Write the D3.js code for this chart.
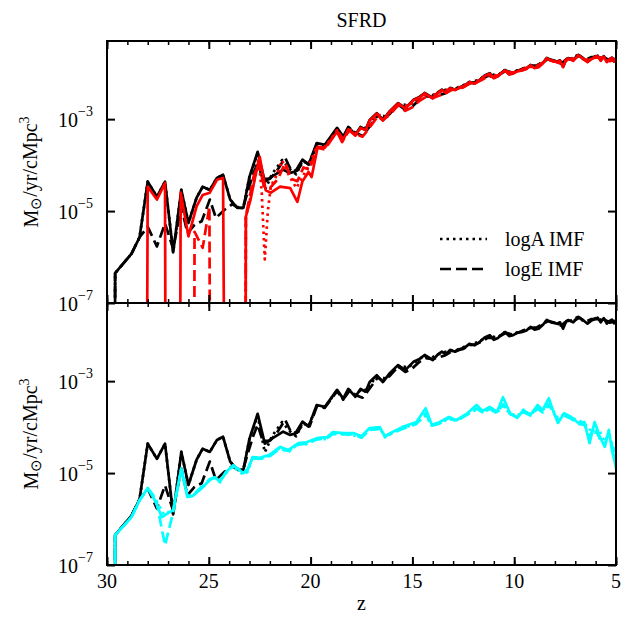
<!DOCTYPE html>
<html>
<head>
<meta charset="utf-8">
<script src="https://cdn.jsdelivr.net/npm/d3@7"></script>
<style>
  body { margin: 0; background: #fff; }
  svg text { font-family: "Liberation Serif", "Times New Roman", serif; fill: #000; }
</style>
</head>
<body>
<div id="chart"></div>
<script>
// values are [z, log10(SFRD)]; -10 means zero (drops below the axis)
var totFid = [[29.62,-10],[29.6,-6.35],[28.8,-5.93],[28.4,-5.57],[28.0,-4.36],[27.55,-4.69],[27.15,-4.36],[26.75,-5.9],[26.35,-4.54],[26.0,-5.26],[25.6,-4.71],[25.3,-4.47],[24.95,-4.54],[24.6,-4.28],[24.3,-4.21],[23.95,-4.75],[23.6,-4.93],[23.3,-4.93],[23.0,-4.25],[22.6,-3.71],[22.25,-4.36],[21.9,-4.25],[21.35,-4.1],[21.0,-4.17],[20.75,-4.14],[20.4,-3.88],[20.1,-3.99],[19.7,-3.52],[19.3,-3.56],[18.7,-3.19],[18.4,-3.38],[18.15,-3.17],[17.8,-3.34],[17.55,-3.17],[17.3,-3.23],[17.1,-3.02],[16.75,-2.87],[16.45,-3.02],[16.1,-2.82],[15.7,-2.65],[15.35,-2.76],[14.95,-2.58],[14.65,-2.52],[14.4,-2.43],[14.0,-2.54],[13.75,-2.42],[13.55,-2.36],[13.35,-2.42],[13.15,-2.32],[12.9,-2.36],[12.65,-2.3],[12.4,-2.26],[12.2,-2.19],[11.95,-2.22],[11.7,-2.15],[11.45,-2.05],[11.2,-2.0],[11.0,-2.1],[10.8,-2.06],[10.6,-1.98],[10.45,-1.93],[10.25,-2.02],[10.05,-2.0],[9.85,-1.95],[9.6,-1.93],[9.4,-1.9],[9.2,-1.82],[9.0,-1.88],[8.8,-1.86],[8.6,-1.78],[8.4,-1.67],[8.2,-1.72],[7.9,-1.75],[7.75,-1.72],[7.6,-1.86],[7.45,-1.7],[7.35,-1.67],[7.1,-1.72],[6.85,-1.6],[6.65,-1.66],[6.4,-1.75],[6.2,-1.68],[5.9,-1.62],[5.75,-1.72],[5.6,-1.63],[5.45,-1.75],[5.35,-1.7],[5.2,-1.66],[5.1,-1.74],[5.0,-1.68]];

var totLogA = [[29.62,-10],[29.6,-6.35],[28.8,-5.93],[28.4,-5.57],[28.0,-4.36],[27.55,-4.69],[27.15,-4.36],[26.75,-5.9],[26.35,-4.54],[26.0,-5.26],[25.6,-4.71],[25.3,-4.47],[24.95,-4.54],[24.6,-4.28],[24.3,-4.21],[23.95,-4.75],[23.6,-4.93],[23.3,-4.93],[23.0,-4.25],[22.6,-3.75],[22.25,-4.55],[21.9,-4.2],[21.4,-3.89],[21.0,-4.1],[20.7,-4.2],[20.4,-3.9],[20.1,-3.98],[19.7,-3.54],[19.3,-3.57],[18.7,-3.2],[18.4,-3.4],[18.1,-3.19],[17.8,-3.3],[17.5,-3.18],[17.2,-3.2],[16.9,-2.97],[16.6,-2.9],[16.3,-2.95],[15.9,-2.75],[15.6,-2.67],[15.2,-2.7],[14.9,-2.6],[14.5,-2.47],[14.1,-2.5],[13.8,-2.43],[13.5,-2.38],[13.2,-2.34],[12.9,-2.34],[12.6,-2.28],[12.3,-2.22],[12.0,-2.18],[11.7,-2.14],[11.4,-2.04],[11.1,-2.03],[10.8,-2.05],[10.5,-1.94],[10.2,-1.99],[9.9,-1.95],[9.6,-1.91],[9.3,-1.85],[9.0,-1.86],[8.7,-1.81],[8.4,-1.68],[8.1,-1.73],[7.8,-1.76],[7.5,-1.73],[7.2,-1.68],[6.9,-1.61],[6.6,-1.69],[6.3,-1.69],[6.0,-1.63],[5.7,-1.67],[5.4,-1.71],[5.1,-1.69],[5.0,-1.71]];

var totLogE = [[29.62,-10],[29.6,-6.35],[28.8,-5.93],[28.4,-5.57],[28.0,-5.34],[27.55,-5.77],[27.15,-5.27],[26.75,-5.82],[26.35,-4.9],[26.05,-5.48],[25.7,-5.3],[25.35,-5.22],[24.95,-4.75],[24.65,-5.15],[24.25,-4.98],[23.85,-4.85],[23.6,-4.92],[23.3,-4.9],[23.0,-4.45],[22.8,-4.17],[22.6,-3.95],[22.35,-4.3],[22.0,-4.3],[21.65,-4.12],[21.25,-3.84],[20.95,-4.12],[20.65,-4.12],[20.35,-3.92],[20.05,-3.98],[19.7,-3.56],[19.3,-3.58],[18.7,-3.22],[18.4,-3.4],[18.1,-3.22],[17.8,-3.3],[17.45,-3.36],[17.3,-3.28],[17.0,-3.1],[16.7,-2.92],[16.45,-3.0],[16.1,-2.88],[15.7,-2.68],[15.35,-2.8],[15.0,-2.72],[14.65,-2.58],[14.35,-2.5],[14.0,-2.52],[13.7,-2.48],[13.4,-2.44],[13.1,-2.36],[12.8,-2.33],[12.5,-2.3],[12.2,-2.22],[11.9,-2.2],[11.6,-2.14],[11.3,-2.06],[11.0,-2.06],[10.7,-2.02],[10.4,-1.95],[10.1,-1.98],[9.8,-1.94],[9.5,-1.89],[9.2,-1.84],[8.9,-1.83],[8.6,-1.76],[8.3,-1.69],[8.0,-1.73],[7.7,-1.79],[7.4,-1.69],[7.1,-1.69],[6.8,-1.62],[6.5,-1.71],[6.2,-1.65],[5.9,-1.65],[5.6,-1.65],[5.3,-1.73],[5.0,-1.69]];

var p2Fid = [[28.05,-10],[28.0,-4.47],[27.55,-4.75],[27.15,-4.39],[27.12,-10],[26.42,-10],[26.38,-4.6],[26.0,-5.55],[25.6,-4.9],[25.3,-4.65],[24.95,-4.6],[24.6,-4.32],[24.3,-4.28],[24.22,-10],[23.2,-10],[23.18,-5.12],[22.95,-4.75],[22.75,-4.32],[22.5,-3.82],[22.2,-4.55],[21.95,-4.6],[21.5,-4.47],[21.0,-4.5],[20.65,-4.8],[20.4,-4.35],[20.1,-4.15],[19.95,-4.26],[19.65,-3.6],[19.3,-3.62],[18.7,-3.28],[18.45,-3.5],[18.15,-3.22],[17.8,-3.36],[17.55,-3.19],[17.3,-3.24],[17.1,-3.03],[16.75,-2.88],[16.45,-3.03],[16.1,-2.83],[15.7,-2.66],[15.35,-2.77],[14.95,-2.59],[14.65,-2.53],[14.4,-2.44],[14.0,-2.55],[13.75,-2.43],[13.55,-2.37],[13.35,-2.43],[13.15,-2.33],[12.9,-2.37],[12.65,-2.31],[12.4,-2.27],[12.2,-2.2],[11.95,-2.23],[11.7,-2.16],[11.45,-2.06],[11.2,-2.01],[11.0,-2.11],[10.8,-2.07],[10.6,-1.99],[10.45,-1.94],[10.25,-2.03],[10.05,-2.01],[9.85,-1.96],[9.6,-1.94],[9.4,-1.91],[9.2,-1.83],[9.0,-1.89],[8.8,-1.87],[8.6,-1.79],[8.4,-1.68],[8.2,-1.73],[7.9,-1.76],[7.75,-1.73],[7.6,-1.87],[7.45,-1.71],[7.35,-1.68],[7.1,-1.73],[6.85,-1.61],[6.65,-1.67],[6.4,-1.76],[6.2,-1.69],[5.9,-1.63],[5.75,-1.73],[5.6,-1.64],[5.45,-1.76],[5.35,-1.71],[5.2,-1.67],[5.1,-1.75],[5.0,-1.69]];

var p2LogA = [[23.2,-10],[23.18,-5.12],[22.95,-4.7],[22.75,-4.3],[22.55,-3.85],[22.4,-4.6],[22.25,-6.05],[22.1,-5.0],[21.95,-4.45],[21.7,-4.25],[21.4,-3.9],[21.15,-4.15],[20.9,-4.35],[20.7,-4.5],[20.45,-4.3],[20.1,-4.02],[19.7,-3.6],[19.35,-3.63],[18.7,-3.24],[18.4,-3.45],[18.1,-3.22],[17.8,-3.31],[17.5,-3.19],[17.2,-3.21],[16.9,-2.98],[16.6,-2.91],[16.3,-2.96],[15.9,-2.76],[15.6,-2.68],[15.2,-2.71],[14.9,-2.61],[14.5,-2.48],[14.1,-2.51],[13.8,-2.44],[13.5,-2.39],[13.2,-2.35],[12.9,-2.35],[12.6,-2.29],[12.3,-2.23],[12.0,-2.19],[11.7,-2.15],[11.4,-2.05],[11.1,-2.04],[10.8,-2.06],[10.5,-1.95],[10.2,-2.0],[9.9,-1.96],[9.6,-1.92],[9.3,-1.86],[9.0,-1.87],[8.7,-1.82],[8.4,-1.69],[8.1,-1.74],[7.8,-1.77],[7.5,-1.74],[7.2,-1.69],[6.9,-1.62],[6.6,-1.7],[6.3,-1.7],[6.0,-1.64],[5.7,-1.68],[5.4,-1.72],[5.1,-1.7],[5.0,-1.72]];

var p2LogE = [[25.72,-10],[25.7,-5.45],[25.3,-5.8],[24.97,-4.9],[24.93,-10],[23.2,-10],[23.18,-5.1],[22.95,-4.6],[22.8,-4.25],[22.55,-3.95],[22.3,-4.45],[22.0,-4.5],[21.6,-4.3],[21.25,-3.95],[20.95,-4.3],[20.65,-4.35],[20.35,-4.05],[20.05,-4.1],[19.7,-3.62],[19.3,-3.66],[18.7,-3.26],[18.4,-3.43],[18.1,-3.25],[17.8,-3.33],[17.45,-3.38],[17.3,-3.3],[17.0,-3.12],[16.7,-2.94],[16.45,-3.02],[16.1,-2.9],[15.7,-2.7],[15.35,-2.82],[15.0,-2.74],[14.65,-2.6],[14.35,-2.52],[14.0,-2.54],[13.7,-2.49],[13.4,-2.45],[13.1,-2.37],[12.8,-2.34],[12.5,-2.31],[12.2,-2.23],[11.9,-2.21],[11.6,-2.15],[11.3,-2.07],[11.0,-2.08],[10.7,-2.03],[10.4,-1.96],[10.1,-1.99],[9.8,-1.95],[9.5,-1.9],[9.2,-1.85],[8.9,-1.84],[8.6,-1.77],[8.3,-1.7],[8.0,-1.74],[7.7,-1.8],[7.4,-1.7],[7.1,-1.7],[6.8,-1.63],[6.5,-1.72],[6.2,-1.66],[5.9,-1.66],[5.6,-1.66],[5.3,-1.74],[5.0,-1.7]];

var p3Fid = [[29.62,-10],[29.6,-6.35],[28.8,-5.96],[28.4,-5.59],[28.0,-5.33],[27.65,-5.59],[27.3,-5.96],[27.0,-5.87],[26.75,-5.8],[26.35,-4.9],[26.05,-5.52],[25.8,-5.5],[25.35,-5.33],[24.95,-5.15],[24.7,-5.09],[24.45,-5.19],[24.2,-5.0],[23.8,-4.83],[23.3,-5.0],[23.1,-4.95],[22.85,-4.65],[22.5,-4.67],[22.0,-4.6],[21.5,-4.43],[21.1,-4.5],[20.6,-4.35],[20.2,-4.33],[19.7,-4.24],[19.2,-4.22],[18.9,-4.11],[18.4,-4.13],[17.9,-4.13],[17.5,-4.2],[17.1,-4.02],[16.6,-4.0],[16.35,-4.2],[15.95,-4.1],[15.5,-4.0],[14.8,-3.89],[14.35,-3.59],[14.05,-3.95],[13.7,-3.9],[13.2,-3.78],[12.85,-3.85],[12.3,-3.7],[11.85,-3.52],[11.55,-3.65],[11.2,-3.56],[10.85,-3.67],[10.55,-3.35],[10.2,-3.7],[9.85,-3.8],[9.55,-3.63],[9.2,-3.73],[8.85,-3.52],[8.6,-3.63],[8.3,-3.37],[8.1,-3.63],[7.85,-3.91],[7.55,-3.7],[7.2,-3.78],[6.85,-3.91],[6.55,-3.89],[6.3,-4.35],[6.05,-3.89],[5.8,-4.2],[5.55,-4.43],[5.35,-4.06],[5.2,-4.5],[5.05,-4.78],[5.0,-4.9]];

var p3LogA = [[29.62,-10],[29.6,-6.35],[28.8,-5.96],[28.4,-5.59],[28.0,-5.33],[27.6,-5.58],[27.2,-5.9],[26.75,-5.8],[26.35,-4.9],[26.05,-5.52],[25.8,-5.5],[25.35,-5.33],[24.95,-5.15],[24.7,-5.1],[24.45,-5.2],[24.2,-5.0],[23.8,-4.86],[23.3,-5.04],[23.1,-4.98],[22.85,-4.66],[22.5,-4.7],[22.0,-4.62],[21.5,-4.45],[21.1,-4.55],[20.6,-4.36],[20.2,-4.37],[19.7,-4.26],[19.2,-4.26],[18.9,-4.13],[18.4,-4.15],[17.9,-4.18],[17.5,-4.22],[17.1,-4.05],[16.6,-4.03],[16.35,-4.22],[15.95,-4.12],[15.5,-4.03],[14.8,-3.92],[14.35,-3.75],[14.05,-3.95],[13.7,-3.92],[13.2,-3.82],[12.85,-3.86],[12.3,-3.72],[11.85,-3.62],[11.55,-3.66],[11.2,-3.62],[10.85,-3.68],[10.55,-3.55],[10.2,-3.7],[9.85,-3.76],[9.55,-3.62],[9.2,-3.74],[8.85,-3.58],[8.6,-3.62],[8.3,-3.55],[8.1,-3.64],[7.85,-3.8],[7.55,-3.72],[7.2,-3.8],[6.85,-3.85],[6.55,-3.92],[6.3,-4.05],[6.05,-4.12],[5.8,-4.08],[5.55,-4.35],[5.35,-4.2],[5.2,-4.35],[5.05,-4.55],[5.0,-4.7]];

var p3LogE = [[29.62,-10],[29.6,-6.35],[28.8,-5.96],[28.4,-5.59],[28.0,-5.33],[27.6,-5.55],[27.15,-6.57],[26.75,-5.85],[26.35,-4.92],[26.05,-5.5],[25.8,-5.48],[25.35,-5.3],[24.95,-5.13],[24.7,-5.1],[24.45,-5.17],[24.2,-5.02],[23.8,-4.85],[23.3,-4.98],[23.1,-4.92],[22.85,-4.68],[22.5,-4.69],[22.0,-4.63],[21.5,-4.47],[21.1,-4.52],[20.6,-4.38],[20.2,-4.36],[19.7,-4.27],[19.2,-4.24],[18.9,-4.15],[18.4,-4.16],[17.9,-4.16],[17.5,-4.23],[17.1,-4.06],[16.6,-4.04],[16.35,-4.2],[15.95,-4.13],[15.5,-4.04],[14.8,-3.93],[14.35,-3.7],[14.05,-3.97],[13.7,-3.93],[13.2,-3.8],[12.85,-3.87],[12.3,-3.73],[11.85,-3.6],[11.55,-3.68],[11.2,-3.6],[10.85,-3.7],[10.55,-3.5],[10.2,-3.72],[9.85,-3.78],[9.55,-3.67],[9.2,-3.75],[8.85,-3.6],[8.6,-3.68],[8.3,-3.5],[8.1,-3.66],[7.85,-3.86],[7.55,-3.75],[7.2,-3.82],[6.85,-3.93],[6.55,-3.95],[6.3,-4.2],[6.05,-4.0],[5.8,-4.25],[5.55,-4.3],[5.35,-4.15],[5.2,-4.4],[5.05,-4.6],[5.0,-4.75]];

var zMajor = [30, 25, 20, 15, 10, 5];
var zMinor = d3.range(5, 31, 1);
var yTickExp = [-7, -5, -3];
var legendLabels = ["logA IMF", "logE IMF"];

var width = 636, height = 625;
var left = 107, right = 616;
var fs = 20; // font size of the labels
var panels = [
    { top: 41, bottom: 303, series: [
        { data: totLogA, color: "#000", dash: "2.5,4" },
        { data: totLogE, color: "#000", dash: "11,5" },
        { data: totFid, color: "#000", dash: null },
        { data: p2LogA, color: "#ff0000", dash: "2.5,4" },
        { data: p2LogE, color: "#ff0000", dash: "11,5" },
        { data: p2Fid, color: "#ff0000", dash: null }
    ] },
    { top: 303, bottom: 565, series: [
        { data: totLogA, color: "#000", dash: "2.5,4" },
        { data: totLogE, color: "#000", dash: "11,5" },
        { data: totFid, color: "#000", dash: null },
        { data: p3LogA, color: "#00ffff", dash: "2.5,4" },
        { data: p3LogE, color: "#00ffff", dash: "11,5" },
        { data: p3Fid, color: "#00ffff", dash: null }
    ] }
];

var svg = d3.select("#chart").append("svg")
    .attr("width", width)
    .attr("height", height);

svg.append("rect").attr("width", width).attr("height", height).attr("fill", "#fff");

var x = d3.scaleLinear().domain([30, 5]).range([left, right]);

panels.forEach(function (p, pi) {
    var y = d3.scaleLog().domain([1e-7, Math.pow(10, -1.3)]).range([p.bottom, p.top]);

    svg.append("clipPath").attr("id", "clip" + pi)
        .append("rect")
        .attr("x", left).attr("y", p.top)
        .attr("width", right - left).attr("height", p.bottom - p.top);

    var line = d3.line()
        .x(function (d) { return x(d[0]); })
        .y(function (d) { return y(Math.pow(10, d[1])); });

    var g = svg.append("g").attr("clip-path", "url(#clip" + pi + ")");
    g.selectAll("path")
        .data(p.series)
        .enter().append("path")
        .attr("d", function (s) { return line(s.data); })
        .attr("fill", "none")
        .attr("stroke", function (s) { return s.color; })
        .attr("stroke-width", 2.7)
        .attr("stroke-linejoin", "round")
        .attr("stroke-dasharray", function (s) { return s.dash; });

    // x ticks, inward, on both edges
    [[d3.axisBottom, p.bottom], [d3.axisTop, p.top]].forEach(function (a) {
        svg.append("g")
            .attr("transform", "translate(0," + a[1] + ")")
            .call(a[0](x).tickValues(zMinor).tickSize(-4).tickFormat(""))
            .call(function (s) { s.select(".domain").remove(); s.selectAll("line").attr("stroke-width", 1.5); });
        svg.append("g")
            .attr("transform", "translate(0," + a[1] + ")")
            .call(a[0](x).tickValues(zMajor).tickSize(-8).tickFormat(""))
            .call(function (s) { s.select(".domain").remove(); s.selectAll("line").attr("stroke-width", 2); });
    });

    // y ticks
    var yl = svg.append("g")
        .attr("transform", "translate(" + left + ",0)")
        .call(d3.axisLeft(y).tickValues(yTickExp.map(function (e) { return Math.pow(10, e); }))
            .tickSize(-8).tickPadding(14).tickFormat(""));
    yl.select(".domain").remove();
    yl.selectAll("line").attr("stroke-width", 2);
    yl.selectAll(".tick text")
        .attr("font-size", fs)
        .attr("dy", "0.35em")
        .each(function (d) {
            var t = d3.select(this);
            t.text("");
            t.append("tspan").text("10");
            t.append("tspan").attr("font-size", 14).attr("dy", "-0.75em").text("\u2212" + (-Math.round(Math.log10(d))));
        });

    var yr = svg.append("g")
        .attr("transform", "translate(" + right + ",0)")
        .call(d3.axisRight(y).tickValues(yTickExp.map(function (e) { return Math.pow(10, e); }))
            .tickSize(-8).tickFormat(""));
    yr.select(".domain").remove();
    yr.selectAll("line").attr("stroke-width", 2);

    svg.append("rect")
        .attr("x", left).attr("y", p.top)
        .attr("width", right - left).attr("height", p.bottom - p.top)
        .attr("fill", "none").attr("stroke", "#000").attr("stroke-width", 2);

    // y label
    var lab = svg.append("text")
        .attr("transform", "translate(38," + ((p.top + p.bottom) / 2) + ") rotate(-90)")
        .attr("text-anchor", "middle")
        .attr("font-size", fs);
    lab.append("tspan").text("M");
    lab.append("tspan").attr("font-size", 15).attr("dy", "0.2em").text("\u2299");
    lab.append("tspan").attr("dy", "-0.2em").text("/yr/cMpc");
    lab.append("tspan").attr("font-size", 14).attr("dy", "-0.6em").text("3");
});

// x tick labels
svg.selectAll("text.zlab")
    .data(zMajor)
    .enter().append("text")
    .attr("class", "zlab")
    .attr("x", function (d) { return x(d); })
    .attr("y", 588)
    .attr("text-anchor", "middle")
    .attr("font-size", fs)
    .text(function (d) { return d; });

svg.append("text")
    .attr("x", (left + right) / 2).attr("y", 610)
    .attr("text-anchor", "middle").attr("font-size", fs)
    .text("z");

svg.append("text")
    .attr("x", (left + right) / 2).attr("y", 27)
    .attr("text-anchor", "middle").attr("font-size", fs)
    .text("SFRD");

// legend
var leg = svg.selectAll("g.legend")
    .data(legendLabels)
    .enter().append("g")
    .attr("class", "legend")
    .attr("transform", function (d, i) { return "translate(0," + (239 + i * 30) + ")"; });
leg.append("line")
    .attr("x1", 440).attr("x2", 487)
    .attr("stroke", "#000").attr("stroke-width", 2.7)
    .attr("stroke-dasharray", function (d, i) { return i === 0 ? "2.5,4" : "11,5"; });
leg.append("text")
    .attr("x", 505).attr("y", 7)
    .attr("font-size", fs)
    .text(function (d) { return d; });
</script>
</body>
</html>
